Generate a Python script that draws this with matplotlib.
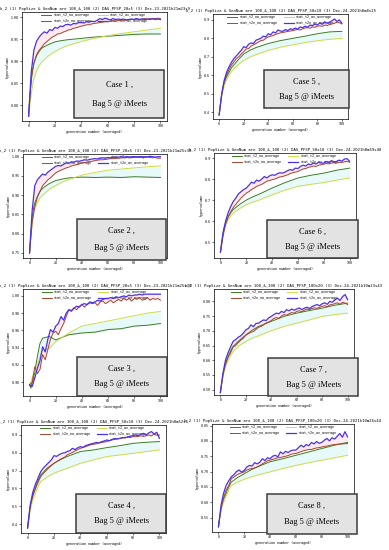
import matplotlib
matplotlib.use('Agg')
import matplotlib.pyplot as plt
from matplotlib.patches import Rectangle
from matplotlib.ticker import MultipleLocator

GEN_COARSE = [0, 1, 2, 3, 4, 6, 8, 10, 15, 20, 25, 30, 40, 50, 60, 70, 80, 90, 100]
GEN_FINE = list(range(0, 101, 2))

LABELS = ['stat_t2_no_average', 'stat_t2_av_average',
          'stat_t2e_no_average', 'stat_t2e_av_average']

# ---- Case 1 ----
C1_T2_NO = [0.775, 0.82, 0.855, 0.88, 0.895, 0.912, 0.922, 0.93, 0.938, 0.944,
            0.947, 0.949, 0.952, 0.955, 0.957, 0.959, 0.961, 0.962, 0.962]
C1_T2_AV = [0.775, 0.80, 0.825, 0.845, 0.86, 0.878, 0.89, 0.898, 0.912, 0.922,
            0.93, 0.936, 0.945, 0.952, 0.958, 0.963, 0.967, 0.971, 0.975]
C1_T2E_NO = [0.775, 0.86, 0.895, 0.915, 0.925, 0.932, 0.94, 0.945, 0.95, 0.955,
             0.958, 0.962, 0.963, 0.966, 0.968, 0.971, 0.972, 0.975, 0.976, 0.978,
             0.98, 0.981, 0.983, 0.983, 0.985, 0.986, 0.987, 0.988, 0.989, 0.99,
             0.99, 0.991, 0.992, 0.991, 0.993, 0.993, 0.994, 0.993, 0.995, 0.995,
             0.995, 0.996, 0.995, 0.996, 0.997, 0.996, 0.997, 0.996, 0.997, 0.998,
             0.997]
C1_T2E_AV = [0.775, 0.875, 0.925, 0.945, 0.955, 0.962, 0.967, 0.964, 0.972, 0.97,
             0.977, 0.975, 0.98, 0.979, 0.983, 0.984, 0.982, 0.986, 0.985, 0.988,
             0.988, 0.987, 0.99, 0.989, 0.991, 0.99, 0.993, 0.997, 0.995, 0.998,
             0.996, 0.994, 0.997, 0.995, 0.996, 0.995, 0.996, 0.994, 0.995, 0.996,
             0.995, 0.997, 0.995, 0.996, 0.995, 0.996, 0.995, 0.997, 0.995, 0.996,
             0.995]

# ---- Case 2 ----
C2_T2_NO = [0.75, 0.8, 0.84, 0.865, 0.88, 0.897, 0.91, 0.918, 0.93, 0.938,
            0.942, 0.945, 0.947, 0.946, 0.947, 0.946, 0.948, 0.947, 0.946]
C2_T2_AV = [0.75, 0.79, 0.825, 0.85, 0.865, 0.882, 0.893, 0.9, 0.915, 0.925,
            0.934, 0.941, 0.952, 0.959, 0.965, 0.968, 0.971, 0.974, 0.976]
C2_T2E_NO = [0.75, 0.83, 0.87, 0.895, 0.91, 0.925, 0.932, 0.94, 0.945, 0.952,
             0.958, 0.962, 0.965, 0.968, 0.971, 0.973, 0.976, 0.978, 0.979, 0.981,
             0.984, 0.985, 0.986, 0.988, 0.988, 0.99, 0.991, 0.992, 0.992, 0.993,
             0.994, 0.995, 0.995, 0.996, 0.996, 0.997, 0.997, 0.998, 0.997, 0.998,
             0.998, 0.999, 0.998, 0.999, 0.998, 0.999, 0.998, 0.997, 0.998, 0.996,
             0.996]
C2_T2E_AV = [0.75, 0.86, 0.925, 0.94, 0.948, 0.955, 0.952, 0.96, 0.965, 0.97,
             0.975, 0.977, 0.976, 0.98, 0.984, 0.983, 0.987, 0.986, 0.989, 0.988,
             0.99, 0.992, 0.991, 0.993, 0.994, 0.995, 0.994, 0.996, 0.997, 0.996,
             0.998, 0.997, 0.999, 0.998, 0.999, 1.0, 0.999, 1.0, 0.999, 1.0,
             1.0, 0.999, 1.0, 1.0, 0.999, 1.0, 1.001, 1.0, 0.999, 1.0,
             1.0]

# ---- Case 3 ----
C3_T2_NO = [0.897, 0.893, 0.9, 0.905, 0.912, 0.93, 0.945, 0.951, 0.953, 0.949,
            0.952, 0.955, 0.957, 0.958, 0.961, 0.962, 0.965, 0.966, 0.968]
C3_T2_AV = [0.897, 0.9, 0.905, 0.91, 0.913, 0.92, 0.93, 0.937, 0.939, 0.947,
            0.952, 0.957, 0.965, 0.968, 0.971, 0.974, 0.977, 0.98, 0.982]
C3_T2E_NO = [0.897, 0.9, 0.918, 0.91, 0.915, 0.932, 0.926, 0.938, 0.95, 0.957,
             0.959, 0.955, 0.962, 0.968, 0.976, 0.984, 0.982, 0.986, 0.984, 0.988,
             0.99, 0.987, 0.99, 0.992, 0.991, 0.992, 0.989, 0.993, 0.994, 0.991,
             0.993, 0.995, 0.992, 0.994, 0.996, 0.994, 0.997, 0.995, 0.997, 0.994,
             0.997, 0.996, 0.998, 0.995, 0.996, 0.998, 0.995, 0.997, 0.996, 0.997,
             0.995]
C3_T2E_AV = [0.897, 0.895, 0.905, 0.916, 0.925, 0.941, 0.935, 0.95, 0.961, 0.958,
             0.965, 0.968, 0.976, 0.972, 0.98, 0.984, 0.983, 0.986, 0.988, 0.987,
             0.99, 0.991, 0.99, 0.993, 0.992, 0.993, 0.995, 0.994, 0.996, 0.997,
             0.997, 0.998, 0.997, 0.999, 0.998, 0.999, 1.0, 0.999, 1.001, 1.0,
             1.001, 1.001, 1.002, 1.001, 1.002, 1.002, 1.002, 1.002, 1.002, 1.002,
             1.002]

# ---- Case 4 ----
C4_T2_NO = [0.378, 0.44, 0.49, 0.53, 0.56, 0.605, 0.645, 0.676, 0.715, 0.741,
            0.762, 0.779, 0.807, 0.816, 0.829, 0.84, 0.853, 0.859, 0.863]
C4_T2_AV = [0.378, 0.43, 0.475, 0.51, 0.535, 0.575, 0.61, 0.639, 0.665, 0.685,
            0.70, 0.713, 0.741, 0.76, 0.779, 0.788, 0.797, 0.807, 0.816]
C4_T2E_NO = [0.378, 0.5, 0.56, 0.6, 0.635, 0.667, 0.685, 0.7, 0.715, 0.728,
             0.741, 0.75, 0.76, 0.768, 0.775, 0.788, 0.795, 0.802, 0.81, 0.818,
             0.825, 0.83, 0.835, 0.84, 0.845, 0.848, 0.85, 0.855, 0.858, 0.86,
             0.863, 0.868, 0.872, 0.875, 0.878, 0.881, 0.883, 0.885, 0.888, 0.886,
             0.891, 0.89, 0.893, 0.895, 0.892, 0.896, 0.9, 0.895, 0.905, 0.898,
             0.9]
C4_T2E_AV = [0.378, 0.508, 0.58, 0.625, 0.66, 0.695, 0.715, 0.73, 0.745, 0.76,
             0.784, 0.78, 0.79, 0.797, 0.8, 0.807, 0.812, 0.825, 0.818, 0.828,
             0.835, 0.83, 0.84, 0.845, 0.85, 0.853, 0.858, 0.855, 0.862, 0.866,
             0.872, 0.868, 0.875, 0.88, 0.878, 0.881, 0.886, 0.884, 0.89, 0.893,
             0.896, 0.9, 0.895, 0.905, 0.909, 0.9, 0.912, 0.919, 0.905, 0.915,
             0.881]

# ---- Case 5 ----
C5_T2_NO = [0.385, 0.44, 0.49, 0.53, 0.555, 0.59, 0.615, 0.64, 0.68, 0.715,
            0.735, 0.75, 0.772, 0.788, 0.80, 0.812, 0.825, 0.835, 0.838]
C5_T2_AV = [0.385, 0.435, 0.48, 0.515, 0.54, 0.575, 0.60, 0.62, 0.655, 0.68,
            0.698, 0.712, 0.735, 0.752, 0.765, 0.777, 0.787, 0.795, 0.80]
C5_T2E_NO = [0.385, 0.49, 0.56, 0.6, 0.63, 0.655, 0.672, 0.69, 0.70, 0.715,
             0.728, 0.742, 0.745, 0.758, 0.765, 0.772, 0.78, 0.788, 0.79, 0.80,
             0.808, 0.812, 0.815, 0.822, 0.826, 0.83, 0.832, 0.835, 0.838, 0.84,
             0.842, 0.846, 0.848, 0.845, 0.852, 0.856, 0.858, 0.855, 0.862, 0.86,
             0.866, 0.868, 0.865, 0.872, 0.87, 0.875, 0.878, 0.882, 0.888, 0.885,
             0.878]
C5_T2E_AV = [0.385, 0.495, 0.57, 0.615, 0.645, 0.67, 0.69, 0.705, 0.72, 0.735,
             0.755, 0.75, 0.768, 0.775, 0.772, 0.79, 0.795, 0.80, 0.812, 0.808,
             0.825, 0.82, 0.835, 0.83, 0.845, 0.84, 0.838, 0.848, 0.842, 0.852,
             0.848, 0.856, 0.85, 0.862, 0.858, 0.866, 0.86, 0.872, 0.868, 0.878,
             0.872, 0.884, 0.876, 0.89, 0.882, 0.888, 0.895, 0.905, 0.892, 0.9,
             0.882]

# ---- Case 6 ----
C6_T2_NO = [0.452, 0.5, 0.54, 0.57, 0.59, 0.62, 0.64, 0.655, 0.68, 0.70,
            0.715, 0.728, 0.757, 0.783, 0.805, 0.818, 0.828, 0.842, 0.852]
C6_T2_AV = [0.452, 0.495, 0.53, 0.56, 0.58, 0.605, 0.625, 0.638, 0.66, 0.678,
            0.69, 0.7, 0.725, 0.747, 0.765, 0.775, 0.783, 0.795, 0.805]
C6_T2E_NO = [0.452, 0.53, 0.585, 0.62, 0.645, 0.665, 0.68, 0.695, 0.71, 0.722,
             0.733, 0.74, 0.75, 0.757, 0.765, 0.77, 0.775, 0.782, 0.79, 0.793,
             0.797, 0.8, 0.805, 0.81, 0.812, 0.816, 0.82, 0.826, 0.83, 0.833,
             0.836, 0.842, 0.848, 0.85, 0.856, 0.858, 0.862, 0.86, 0.866, 0.868,
             0.871, 0.874, 0.872, 0.876, 0.878, 0.876, 0.88, 0.879, 0.882, 0.884,
             0.88]
C6_T2E_AV = [0.452, 0.545, 0.6, 0.64, 0.67, 0.694, 0.71, 0.73, 0.74, 0.75,
             0.757, 0.77, 0.785, 0.78, 0.795, 0.79, 0.8, 0.812, 0.805, 0.815,
             0.82, 0.818, 0.825, 0.83, 0.828, 0.833, 0.84, 0.845, 0.842, 0.852,
             0.85, 0.86, 0.866, 0.862, 0.871, 0.868, 0.876, 0.872, 0.88, 0.876,
             0.876, 0.884, 0.878, 0.888, 0.882, 0.884, 0.89, 0.885, 0.895, 0.897,
             0.885]

# ---- Case 7 ----
C7_T2_NO = [0.49, 0.52, 0.548, 0.57, 0.588, 0.612, 0.632, 0.647, 0.668, 0.686,
            0.702, 0.715, 0.732, 0.749, 0.76, 0.769, 0.777, 0.787, 0.794]
C7_T2_AV = [0.49, 0.518, 0.543, 0.562, 0.578, 0.598, 0.615, 0.63, 0.65, 0.664,
            0.675, 0.683, 0.70, 0.715, 0.726, 0.737, 0.749, 0.755, 0.76]
C7_T2E_NO = [0.49, 0.55, 0.585, 0.61, 0.625, 0.645, 0.65, 0.66, 0.668, 0.675,
             0.685, 0.69, 0.695, 0.698, 0.705, 0.712, 0.715, 0.72, 0.727, 0.73,
             0.735, 0.742, 0.745, 0.742, 0.75, 0.755, 0.753, 0.758, 0.762, 0.76,
             0.766, 0.768, 0.765, 0.77, 0.774, 0.772, 0.776, 0.778, 0.776, 0.78,
             0.783, 0.785, 0.782, 0.788, 0.79, 0.792, 0.795, 0.79, 0.797, 0.794,
             0.789]
C7_T2E_AV = [0.49, 0.555, 0.6, 0.625, 0.645, 0.664, 0.67, 0.678, 0.683, 0.692,
             0.703, 0.708, 0.72, 0.714, 0.725, 0.726, 0.732, 0.737, 0.735, 0.744,
             0.749, 0.755, 0.76, 0.758, 0.766, 0.762, 0.772, 0.768, 0.774, 0.77,
             0.774, 0.778, 0.772, 0.777, 0.78, 0.776, 0.782, 0.786, 0.789, 0.785,
             0.792, 0.795, 0.79, 0.8, 0.797, 0.805, 0.811, 0.803, 0.816, 0.823,
             0.806]

# ---- Case 8 ----
C8_T2_NO = [0.52, 0.55, 0.575, 0.595, 0.61, 0.63, 0.65, 0.666, 0.681, 0.693,
            0.705, 0.715, 0.732, 0.742, 0.753, 0.764, 0.775, 0.786, 0.795]
C8_T2_AV = [0.52, 0.548, 0.57, 0.588, 0.6, 0.62, 0.64, 0.655, 0.666, 0.675,
            0.682, 0.688, 0.699, 0.71, 0.72, 0.729, 0.737, 0.745, 0.753]
C8_T2E_NO = [0.52, 0.58, 0.615, 0.64, 0.655, 0.677, 0.682, 0.688, 0.693, 0.696,
             0.699, 0.705, 0.708, 0.71, 0.712, 0.715, 0.72, 0.725, 0.73, 0.735,
             0.737, 0.74, 0.742, 0.745, 0.746, 0.748, 0.75, 0.752, 0.756, 0.758,
             0.759, 0.762, 0.765, 0.768, 0.77, 0.772, 0.772, 0.775, 0.777, 0.778,
             0.78, 0.782, 0.783, 0.785, 0.787, 0.788, 0.789, 0.79, 0.79, 0.791,
             0.791]
C8_T2E_AV = [0.52, 0.59, 0.63, 0.655, 0.67, 0.683, 0.69, 0.70, 0.705, 0.698,
             0.704, 0.715, 0.72, 0.718, 0.729, 0.725, 0.73, 0.742, 0.736, 0.745,
             0.742, 0.75, 0.753, 0.748, 0.764, 0.758, 0.766, 0.762, 0.768, 0.77,
             0.77, 0.778, 0.786, 0.78, 0.788, 0.784, 0.795, 0.79, 0.798, 0.792,
             0.795, 0.802, 0.808, 0.8, 0.81, 0.806, 0.815, 0.824, 0.812, 0.83,
             0.813]

TITLE_HEAD = 'k_2 (1) PopSize & GenNum are 100_&_100 (2) '
TITLES = {
    1: 'DAG_PFSP_20x5 (3) Dec-23-2021h21m23s9',
    2: 'DAG_PFSP_20x5 (3) Dec-23-2021h21m25s38',
    3: 'DAG_PFSP_20x5 (3) Dec-23-2021h21m25s30',
    4: 'DAG_PFSP_50x10 (3) Dec-24-2021h0m52s5',
    5: 'DAG_PFSP_50x10 (3) Dec-24-2021h0m8s25',
    6: 'DAG_PFSP_50x10 (3) Dec-24-2021h0m59s48',
    7: 'DAG_PFSP_100x20 (3) Dec-24-2021h10m23s43',
    8: 'DAG_PFSP_100x20 (3) Dec-24-2021h10m26s44',
}

SERIES = {
    1: (C1_T2_NO, C1_T2_AV, C1_T2E_NO, C1_T2E_AV),
    2: (C2_T2_NO, C2_T2_AV, C2_T2E_NO, C2_T2E_AV),
    3: (C3_T2_NO, C3_T2_AV, C3_T2E_NO, C3_T2E_AV),
    4: (C4_T2_NO, C4_T2_AV, C4_T2E_NO, C4_T2E_AV),
    5: (C5_T2_NO, C5_T2_AV, C5_T2E_NO, C5_T2E_AV),
    6: (C6_T2_NO, C6_T2_AV, C6_T2E_NO, C6_T2E_AV),
    7: (C7_T2_NO, C7_T2_AV, C7_T2E_NO, C7_T2E_AV),
    8: (C8_T2_NO, C8_T2_AV, C8_T2E_NO, C8_T2E_AV),
}

# y range and tick step of each panel
YRANGE = {1: (0.764, 1.012, 0.05), 2: (0.737, 1.007, 0.05), 3: (0.884, 1.008, 0.02),
          4: (0.35, 0.956, 0.1), 5: (0.363, 0.932, 0.1), 6: (0.424, 0.924, 0.1),
          7: (0.482, 0.842, 0.05), 8: (0.503, 0.855, 0.05)}

# layout in pixels: axes box (l, t, r, b) and the "Case" box
AX_PX = {1: (22, 12, 167, 121), 2: (23, 154, 167, 258), 3: (23, 289, 167, 396),
         4: (21, 425, 166, 533), 5: (213, 14, 348, 119), 6: (214, 153, 356, 258),
         7: (214, 289, 354, 395), 8: (212, 424, 354, 532)}
BOX_PX = {1: (74, 70, 164, 118), 2: (77, 219, 166, 260), 3: (77, 357, 167, 396),
          4: (76, 494, 166, 533), 5: (264, 70, 349, 108), 6: (267, 220, 358, 258),
          7: (268, 358, 358, 396), 8: (267, 494, 357, 534)}

GREEN = '#3a7d22'
YELLOW = '#cfdc48'
RED = '#a8442c'
BLUE = '#4b30e8'

W, H = 389, 550
fig = plt.figure(figsize=(W / 100, H / 100), dpi=100)
fig.patch.set_facecolor('white')

mono = 'DejaVu Sans Mono'

for case in range(1, 9):
    l, t, r, b = AX_PX[case]
    ax = fig.add_axes([l / W, 1 - b / H, (r - l) / W, (b - t) / H])
    t2_no, t2_av, t2e_no, t2e_av = SERIES[case]

    ax.fill_between(GEN_COARSE, t2_no, t2_av, color='#d8f6f6', alpha=0.6, lw=0, zorder=1)
    ax.fill_between(GEN_FINE, t2e_no, t2e_av, color='#fcdde8', alpha=0.6, lw=0, zorder=1)
    h1, = ax.plot(GEN_COARSE, t2_no, color=GREEN, lw=0.7, zorder=3)
    h2, = ax.plot(GEN_COARSE, t2_av, color=YELLOW, lw=0.7, zorder=3)
    h3, = ax.plot(GEN_FINE, t2e_no, color=RED, lw=0.7, zorder=3)
    h4, = ax.plot(GEN_FINE, t2e_av, color=BLUE, lw=0.9, zorder=4)

    y0, y1, step = YRANGE[case]
    ax.set_xlim(-5, 105)
    ax.set_ylim(y0, y1)
    ax.yaxis.set_major_locator(MultipleLocator(step))
    ax.xaxis.set_major_locator(MultipleLocator(20))
    ax.tick_params(labelsize=2.3, length=1.5, width=0.4, pad=1)
    for lab in ax.get_xticklabels() + ax.get_yticklabels():
        lab.set_family(mono)
    for s in ax.spines.values():
        s.set_linewidth(0.5)

    ax.set_xlabel('generation number (averaged)', fontsize=2.4, family=mono, labelpad=1)
    ax.set_ylabel('hypervolume', fontsize=2.4, family=mono, labelpad=1)
    ax.set_title(TITLE_HEAD + TITLES[case], fontsize=2.8, family=mono, pad=1.2)

    leg = ax.legend([h1, h3, h2, h4], [LABELS[0], LABELS[2], LABELS[1], LABELS[3]],
                    ncol=2, loc='upper center', frameon=False,
                    prop={'family': mono, 'size': 2.4}, handlelength=3,
                    handletextpad=0.6, columnspacing=2.0, labelspacing=0.5,
                    borderaxespad=0.2, borderpad=0.2)
    leg.set_zorder(2)

    # the "Case n , Bag 5 @ iMeets" label box
    bl, bt, br, bb = BOX_PX[case]
    fig.add_artist(Rectangle((bl / W, 1 - bb / H), (br - bl) / W, (bb - bt) / H,
                             transform=fig.transFigure, facecolor='#e3e3e3',
                             edgecolor='#3c3c3c', lw=1.1, zorder=10))
    cx = (bl + br) / 2 / W
    fig.text(cx, 1 - (bt + 0.3 * (bb - bt)) / H, 'Case %d ,' % case,
             ha='center', va='center', fontsize=6, family='Liberation Serif', zorder=11)
    fig.text(cx, 1 - (bt + 0.7 * (bb - bt)) / H, 'Bag 5 @ iMeets',
             ha='center', va='center', fontsize=6, family='Liberation Serif', zorder=11)

fig.savefig('out.png', dpi=100, facecolor='white')
